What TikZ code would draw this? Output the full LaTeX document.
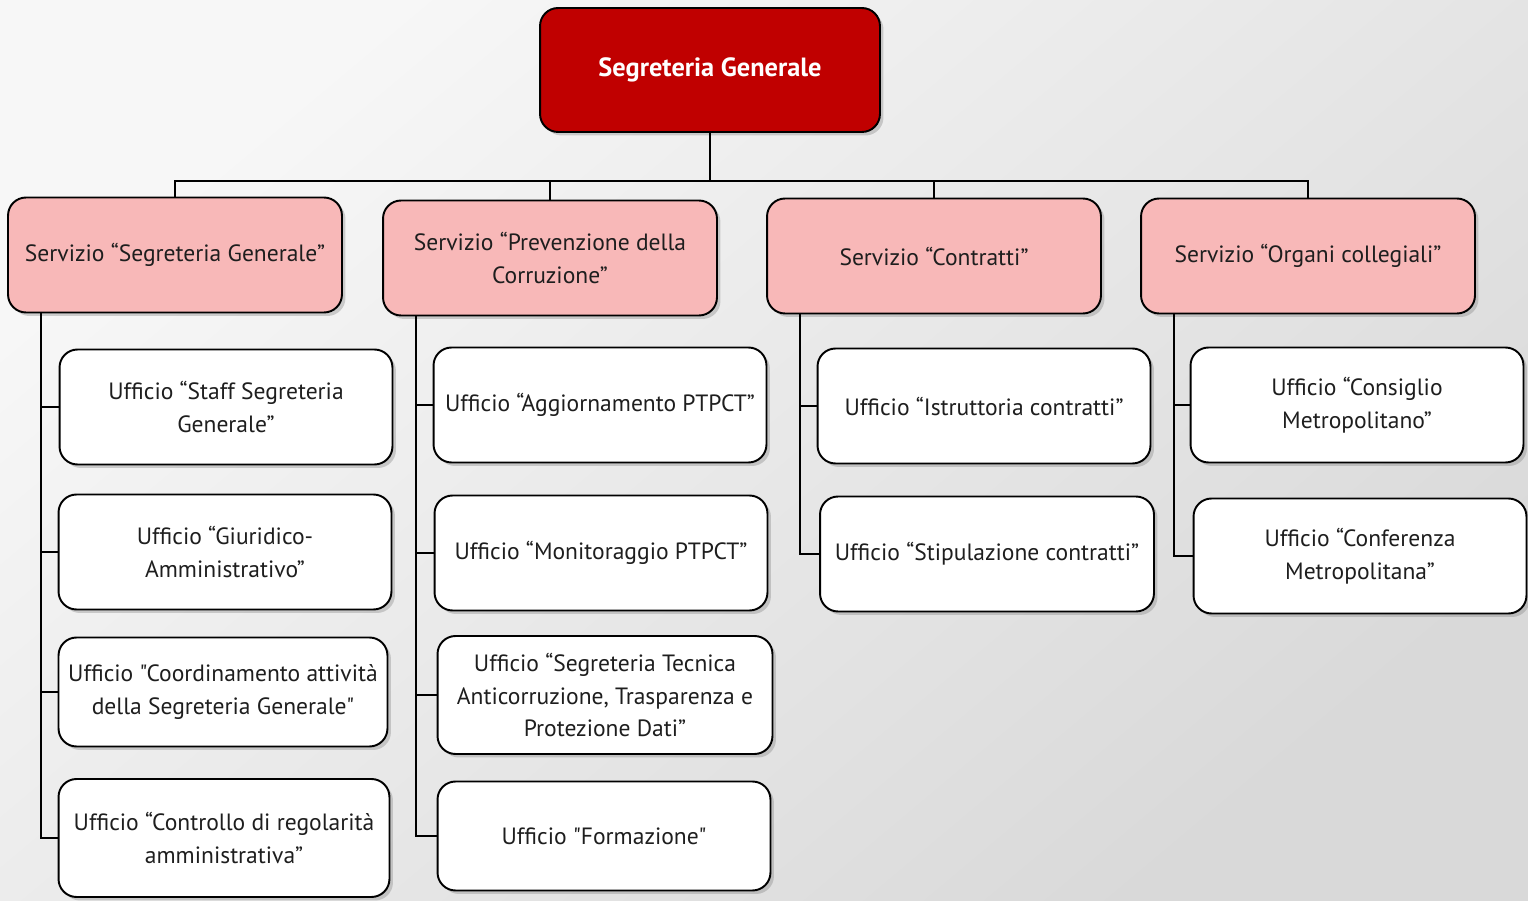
\documentclass[tikz,border=0pt]{standalone}
\usepackage{fontspec}
\setmainfont{PT Sans}[Ligatures=TeXOff]
\usepackage{tikz}
\usetikzlibrary{shadows}
\definecolor{rootred}{HTML}{C00000}
\definecolor{servpink}{HTML}{F8B8B8}
\definecolor{txtgray}{HTML}{1E1E1E}

\begin{document}
\begin{tikzpicture}[x=0.02cm, y=-0.02cm,
		box/.style={draw=black, line width=1.1pt, rounded corners=0.36cm, align=center,
			text=txtgray, inner sep=2pt,
			font=\fontsize{13.4}{18.7}\selectfont,
			drop shadow={shadow xshift=0.07cm, shadow yshift=-0.07cm, opacity=0.35}},
		rootbox/.style={box, fill=rootred, text=white, minimum width=6.8cm, minimum height=2.48cm,
			font=\fontsize{15}{18.7}\selectfont\bfseries},
		servbox/.style={box, fill=servpink, minimum width=6.68cm, minimum height=2.3cm},
		uffbox/.style={box, fill=white, minimum width=6.66cm, minimum height=2.3cm},
		link/.style={line width=1.1pt, draw=black}]
		% background
		\shade[top color=gray!6, bottom color=gray!30, shading angle=40]
			(0,0) rectangle (1528,901);
		\useasboundingbox (0,0) rectangle (1528,901);

		% root and services
		\node[rootbox] (root) at (710,70) {Segreteria Generale};
		\node[servbox] (s1) at (175,255) {Servizio “Segreteria Generale”};
		\node[servbox] (s2) at (550,258) {Servizio “Prevenzione della\\Corruzione”};
		\node[servbox] (s3) at (934,256) {Servizio “Contratti”};
		\node[servbox] (s4) at (1308,256) {Servizio “Organi collegiali”};

		% uffici
		\node[uffbox] (o1a) at (226,407) {Ufficio “Staff Segreteria\\Generale”};
		\node[uffbox] (o1b) at (225,552) {Ufficio “Giuridico-\\Amministrativo”};
		\node[uffbox, minimum width=6.58cm, minimum height=2.18cm] (o1c) at (223,692) {Ufficio "Coordinamento attività\\della Segreteria Generale"};
		\node[uffbox, minimum width=6.62cm, minimum height=2.36cm] (o1d) at (224,838) {Ufficio “Controllo di regolarità\\amministrativa”};

		\node[uffbox] (o2a) at (600,405) {Ufficio “Aggiornamento PTPCT”};
		\node[uffbox] (o2b) at (601,553) {Ufficio “Monitoraggio PTPCT”};
		\node[uffbox, minimum width=6.7cm, minimum height=2.36cm] (o2c) at (605,695) {Ufficio “Segreteria Tecnica\\Anticorruzione, Trasparenza e\\Protezione Dati”};
		\node[uffbox, minimum height=2.18cm] (o2d) at (604,836) {Ufficio "Formazione"};

		\node[uffbox] (o3a) at (984,406) {Ufficio “Istruttoria contratti”};
		\node[uffbox, minimum width=6.68cm] (o3b) at (987,554) {Ufficio “Stipulazione contratti”};

		\node[uffbox] (o4a) at (1357,405) {Ufficio “Consiglio\\Metropolitano”};
		\node[uffbox] (o4b) at (1360,556) {Ufficio “Conferenza\\Metropolitana”};

		% connectors root -> services
		\foreach \s in {s1,s2,s3,s4}
			\draw[link] (root.south) -- ++(0,48) -| (\s.north);

		% connectors services -> uffici
		\foreach \s/\o in {s1/o1a,s1/o1b,s1/o1c,s1/o1d,s2/o2a,s2/o2b,s2/o2c,s2/o2d,s3/o3a,s3/o3b,s4/o4a,s4/o4b}
			\draw[link] ([xshift=0.68cm]\s.south west) |- (\o.west);
	\end{tikzpicture}
\end{document}
